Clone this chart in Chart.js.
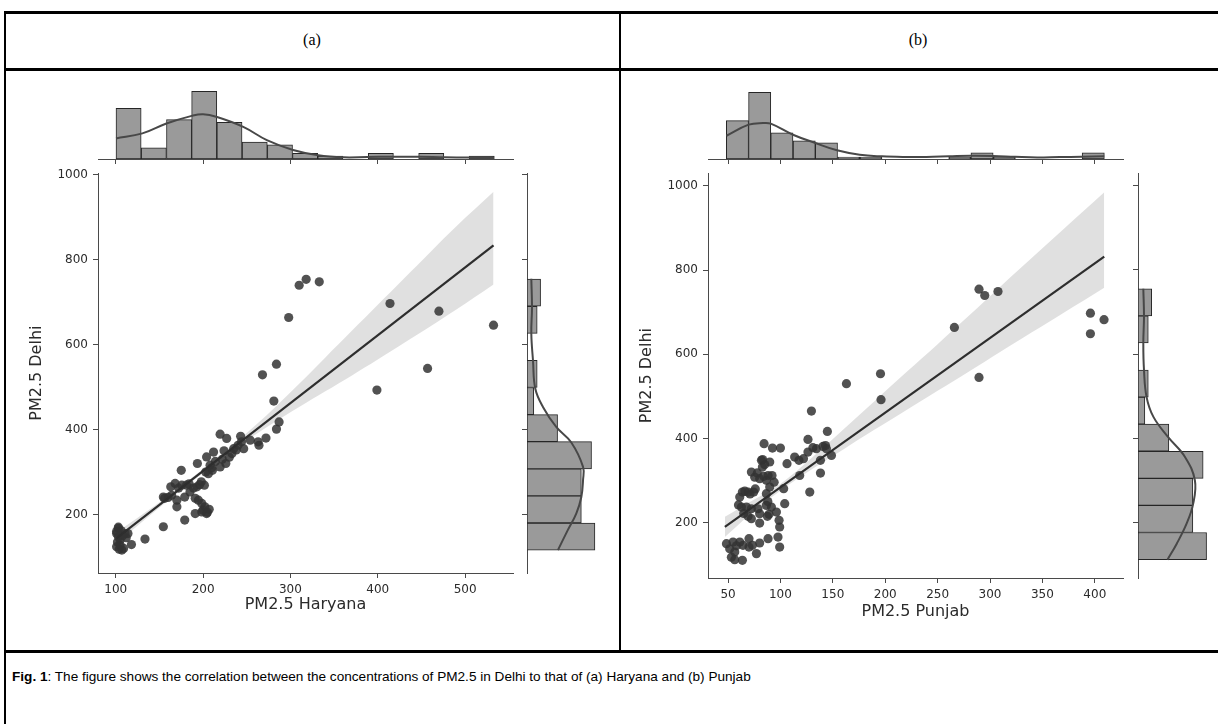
<!DOCTYPE html>
<html>
<head>
<meta charset="utf-8">
<script src="https://cdn.jsdelivr.net/npm/chart.js@4.4.1/dist/chart.umd.min.js"></script>
<style>
    body { margin: 0; width: 1218px; height: 724px; background: #fff; position: relative; overflow: hidden; }
    .rule { position: absolute; background: #000; }
    .head { position: absolute; top: 31px; font-family: "Liberation Serif", "Times New Roman", serif; font-size: 16px; transform: translateX(-50%); }
    canvas { position: absolute; }
    #caption { position: absolute; left: 12px; top: 669px; font-family: "Liberation Sans", Arial, sans-serif; font-size: 13.6px; color: #000; white-space: nowrap; }
</style>
</head>
<body>
<div class="rule" style="left:4px;top:11px;width:1214px;height:3px"></div>
<div class="rule" style="left:4px;top:68px;width:1214px;height:3px"></div>
<div class="rule" style="left:4px;top:650px;width:1214px;height:3px"></div>
<div class="rule" style="left:4px;top:11px;width:2px;height:713px"></div>
<div class="rule" style="left:619px;top:11px;width:2px;height:642px"></div>
<div class="head" style="left:312px">(a)</div>
<div class="head" style="left:918px">(b)</div>

<canvas id="haryanaTopGraph"></canvas>
<canvas id="haryanaScatterGraph"></canvas>
<canvas id="haryanaSideGraph"></canvas>
<canvas id="punjabTopGraph"></canvas>
<canvas id="punjabScatterGraph"></canvas>
<canvas id="punjabSideGraph"></canvas>

<div id="caption"><b>Fig. 1</b>: The figure shows the correlation between the concentrations of PM2.5 in Delhi to that of (a) Haryana and (b) Punjab</div>

<script>
// ---------- panel (a): Haryana vs Delhi ----------
const haryanaPm = [310, 318, 333, 298, 414, 470, 532.5, 284, 268, 457, 399, 281,
    287, 284,
    272, 264, 263, 254, 246.5,
    243, 244, 219.5, 227, 235, 240, 233, 224, 226, 219.5, 230, 238, 222,
    212, 204, 208, 210.7, 206, 193.5, 198, 201.5, 193, 191, 194.6, 198.5, 202, 200, 204, 198.5, 191, 205, 207, 196, 189, 214, 203, 210,
    175, 181, 175.6, 168, 163, 185, 179, 170, 164, 170, 179, 184, 172, 160,
    154.5, 154.5, 133.5, 156,
    118, 103, 110.6, 101, 105, 101, 107, 114, 103, 102, 104, 106, 108, 112, 101, 105, 109, 103];
const delhiPmA = [740, 754, 748, 664, 697, 679, 646, 554, 529, 544, 493, 467,
    418, 401,
    380, 363, 371, 375, 355,
    384, 371, 389, 379, 355, 363, 343.5, 350, 320, 312, 335, 352, 330,
    347, 335.5, 316, 304, 296, 320, 277, 269, 265, 238, 233.6, 226, 218, 210, 202, 206, 202, 205, 212, 270, 262, 325, 300, 310,
    304, 269, 269, 273, 265, 253, 241, 233.6, 245, 218, 186.6, 272, 262, 240,
    241, 171, 142, 238,
    129, 167, 155, 155, 140, 124, 116, 155, 148, 135, 118, 162, 150, 145, 160, 128, 120, 170];

// regression line and confidence band
const haryanaFitX = [101, 532.5];
const haryanaFitY = [144, 834];
const haryanaBandX = [101, 130, 160, 190, 220, 250, 280, 310, 340, 370, 400, 430, 460, 490, 532.5];
const haryanaBandHigh = [158, 199, 244, 291, 340, 392, 448, 508, 570, 632, 694, 756, 818, 879, 960];
const haryanaBandLow = [132, 182, 233, 282, 329, 374, 415, 453, 490, 527, 565, 604, 643, 683, 742];

// top marginal histogram (a)
const haryanaBinCenters = [114.7, 143.6, 172.5, 201.3, 230.2, 259.1, 288, 316.8, 345.7, 374.6, 403.5, 432.3, 461.2, 490.1, 519];
const haryanaBinCounts = [18, 4, 14, 24, 13, 6, 5, 2, 1, 0, 2, 0, 2, 0, 1];
const haryanaKdeX = [100.3, 130.5, 158, 187, 200, 216, 246, 273, 303, 332, 361, 388, 418, 447, 476, 504, 533];
const haryanaKdeCount = [7.3, 9.1, 12.6, 15.3, 15.9, 14.9, 11.4, 6.7, 3.2, 1.3, 0.6, 0.7, 0.8, 0.8, 0.6, 0.5, 0.35];

// right marginal histogram (a)
const delhiBinCentersA = [147.9, 211.7, 275.5, 339.3, 403.1, 466.9, 530.7, 594.5, 658.3, 722.1];
const delhiBinCountsA = [20, 16, 16, 19, 9, 2, 3, 0, 3, 4];
const delhiKdeYA = [116, 163, 202, 241, 281, 312, 370, 406, 453, 496, 563, 626, 688, 755];
const delhiKdeCountA = [9.1, 12, 14.5, 16, 16.5, 16.5, 13, 8.6, 4.7, 2.45, 1.76, 1.27, 1.47, 1.27];

// ---------- panel (b): Punjab vs Delhi ----------
const punjabPm = [289.5, 295, 307.6, 266, 395.8, 408.8, 395.8, 289.5, 195.5, 196, 163, 129.6,
    144.8, 134.3, 140.6, 143.9, 148.7, 138.2, 138.2, 143,
    126.3, 113.6, 117.7, 126.3, 118.4, 128, 122, 131,
    92.4, 100, 106.3, 103.1, 104.1, 91.4, 96.2, 98.7, 99.3, 97.7, 99.3, 94, 92,
    84.4, 81.9, 89.8, 82.8, 88.2, 72.3, 75.5, 80.2, 86.6, 89.8, 86.6, 74.5, 72.3, 78.6, 86.6, 89.1, 80.2, 72.3, 80.2, 87.6, 88.2, 70, 80.2, 73.3, 77.1, 70, 84, 78, 85, 83, 76, 88, 71,
    63.7, 69.1, 61.2, 62.8, 67.6, 69.1, 48.5, 54.8, 61.2, 64.3, 51.6, 56.4, 53.2, 56.4, 63.7, 66, 60, 65, 58];
const delhiPmB = [754.5, 739.5, 749, 663.6, 697.5, 682, 648.6, 545, 553.7, 492, 530, 465,
    416.7, 375.6, 381, 375.6, 359.7, 348, 317.7, 383,
    397.7, 355.7, 348, 367.6, 312, 272.6, 352, 378,
    377, 377, 340, 280.7, 245, 237, 225, 205.5, 189.6, 165.8, 142, 296, 312,
    387.5, 348, 344, 332, 312, 320, 308, 304.4, 300.4, 284.5, 268.8, 272.6, 233, 233, 241, 219.7, 221.4, 209.5, 199, 215, 162, 162, 151.6, 146, 126.4, 142, 310, 318, 338, 350, 280, 250, 268,
    272.6, 272.6, 260.8, 237, 237, 215, 150, 154, 154, 146, 138, 130, 118, 112, 110.5, 275, 242, 222, 145];

const punjabFitX = [47, 409];
const punjabFitY = [190, 832];
const punjabBandX = [47, 70, 100, 130, 160, 190, 220, 250, 280, 310, 340, 370, 409];
const punjabBandHigh = [214, 248, 292, 354, 421, 489, 557, 624, 692, 761, 829, 897, 985];
const punjabBandLow = [166, 217, 276, 327, 374, 421, 467, 513, 559, 606, 652, 698, 758];

const punjabBinCenters = [59, 80.2, 101.4, 122.7, 143.9, 165.1, 186.3, 207.5, 228.8, 250, 271.2, 292.4, 313.6, 334.9, 356.1, 377.3, 398.5];
const punjabBinCounts = [19, 33, 13, 9, 8, 1, 1, 0, 0, 0, 1, 3, 1, 0, 0, 0, 3];
const punjabKdeX = [48.5, 69.7, 83.4, 90.8, 112, 133.4, 154, 175.7, 197, 218.6, 239.3, 260.6, 281.6, 303, 324, 345, 366.5, 387.2, 409];
const punjabKdeCount = [11.5, 17, 17.8, 17.5, 12, 7.9, 4.3, 2.1, 1.3, 1.0, 1.0, 1.3, 1.6, 1.5, 1.1, 0.8, 1.0, 1.1, 1.3];

const delhiBinCentersB = [144.4, 208.7, 273, 337.3, 401.6, 465.9, 530.2, 594.5, 658.8, 723.1];
const delhiBinCountsB = [20, 16, 16, 19, 9, 2, 3, 0, 3, 4];
const delhiKdeYB = [112, 150, 198, 245, 300, 356, 403, 451, 498, 562, 626, 690, 755];
const delhiKdeCountB = [8.6, 11.3, 14.2, 16.1, 16.6, 13.7, 8.8, 4.5, 2.5, 1.75, 1.55, 1.75, 1.55];

// tick labels
const haryanaTicks = [100, 200, 300, 400, 500];
const punjabTicks = [50, 100, 150, 200, 250, 300, 350, 400];
const delhiTicks = [200, 400, 600, 800, 1000];

const spineColor = '#4a4a4a';
const labelColor = '#2b2b2b';
const barFill = '#9a9a9a';
const barEdge = '#262626';
const kdeColor = '#484848';

Chart.defaults.font.family = 'DejaVu Sans';
Chart.defaults.animation = false;

// put a canvas where its chart area lands on the given box
function place_canvas(id, box, pad) {
    const el = document.getElementById(id);
    const w = pad.left + (box.right - box.left) + pad.right;
    const h = pad.top + (box.bottom - box.top) + pad.bottom;
    el.width = w;
    el.height = h;
    el.style.left = (box.left - pad.left) + 'px';
    el.style.top = (box.top - pad.top) + 'px';
    el.style.width = w + 'px';
    el.style.height = h + 'px';
    return el;
}

// seaborn style spine with outward tick marks
function _spine_scale(min, max, tickValues, titleText, showLabels, fitSize) {
    return {
        type: 'linear',
        min: min,
        max: max,
        offset: false,
        afterBuildTicks: scale => { scale.ticks = tickValues.map(v => ({ value: v })); },
        afterFit: scale => {
            if (scale.isHorizontal()) { scale.height = fitSize } else { scale.width = fitSize }
        },
        grid: { drawOnChartArea: false, drawTicks: true, tickLength: 5, color: spineColor, lineWidth: 1, offset: false },
        border: { display: true, color: spineColor, width: 1 },
        ticks: {
            display: showLabels, autoSkip: false, maxRotation: 0, padding: 5, color: labelColor, font: { size: 12 },
            callback: value => String(value)
        },
        title: { display: !!titleText, text: titleText || '', color: labelColor, font: { size: 16 }, padding: 0 }
    };
}

function _hidden_scale(min, max) {
    return { type: 'linear', display: false, min: min, max: max };
}

function _pairs(xs, ys) {
    return xs.map((x, i) => ({ x: x, y: ys[i] }));
}

// build config for the joint scatter with regression fit
function _build_scatter_config(xs, ys, fitX, fitY, bandX, bandHigh, bandLow, xRange, yRange, xTicks, xTitle, pad) {
    return {
        type: 'scatter',
        data: {
            datasets: [
                { type: 'line', data: _pairs(bandX, bandHigh), borderWidth: 0, pointRadius: 0, tension: 0.35, fill: false, order: 3 },
                { type: 'line', data: _pairs(bandX, bandLow), borderWidth: 0, pointRadius: 0, tension: 0.35, fill: '-1', backgroundColor: 'rgba(0,0,0,0.12)', order: 3 },
                { data: _pairs(xs, ys), pointRadius: 4.6, pointBackgroundColor: 'rgba(52,52,52,0.85)', pointBorderWidth: 0, order: 2 },
                { type: 'line', data: _pairs(fitX, fitY), borderColor: '#2e2e2e', borderWidth: 2.2, pointRadius: 0, fill: false, order: 1 }
            ]
        },
        options: {
            responsive: false,
            maintainAspectRatio: false,
            devicePixelRatio: 1,
            layout: { padding: { top: pad.top, right: pad.right, left: 0, bottom: 0 } },
            plugins: { legend: { display: false }, tooltip: { enabled: false } },
            scales: {
                x: _spine_scale(xRange[0], xRange[1], xTicks, xTitle, true, pad.bottom),
                y: _spine_scale(yRange[0], yRange[1], delhiTicks, 'PM2.5 Delhi', true, pad.left)
            }
        }
    };
}

// build config for the top marginal histogram
function _build_top_config(centers, counts, kdeX, kdeCount, xRange, yMax, xTicks, pad) {
    return {
        type: 'bar',
        data: {
            datasets: [
                { type: 'line', data: _pairs(kdeX, kdeCount), borderColor: kdeColor, borderWidth: 2, pointRadius: 0, tension: 0.4, fill: false, order: 0 },
                { data: _pairs(centers, counts), backgroundColor: barFill, borderColor: barEdge, borderWidth: 1, borderSkipped: false, barPercentage: 1, categoryPercentage: 1, order: 1 }
            ]
        },
        options: {
            responsive: false,
            maintainAspectRatio: false,
            devicePixelRatio: 1,
            layout: { padding: { top: pad.top, right: pad.right, left: pad.left, bottom: 0 } },
            plugins: { legend: { display: false }, tooltip: { enabled: false } },
            scales: {
                x: _spine_scale(xRange[0], xRange[1], xTicks, '', false, pad.bottom),
                y: _hidden_scale(0, yMax)
            }
        }
    };
}

// build config for the right marginal histogram
function _build_side_config(centers, counts, kdeY, kdeCount, yRange, xMax, pad) {
    return {
        type: 'bar',
        data: {
            datasets: [
                { type: 'line', indexAxis: 'y', data: kdeY.map((y, i) => ({ x: kdeCount[i], y: y })), borderColor: kdeColor, borderWidth: 2, pointRadius: 0, tension: 0.4, fill: false, order: 0 },
                { data: centers.map((y, i) => ({ x: counts[i], y: y })), backgroundColor: barFill, borderColor: barEdge, borderWidth: 1, borderSkipped: false, barPercentage: 1, categoryPercentage: 1, order: 1 }
            ]
        },
        options: {
            indexAxis: 'y',
            responsive: false,
            maintainAspectRatio: false,
            devicePixelRatio: 1,
            layout: { padding: { top: pad.top, right: pad.right, left: 0, bottom: pad.bottom } },
            plugins: { legend: { display: false }, tooltip: { enabled: false } },
            scales: {
                x: _hidden_scale(0, xMax),
                y: _spine_scale(yRange[0], yRange[1], delhiTicks, '', false, pad.left)
            }
        }
    };
}

function create_haryana_graphs() {
    console.log("creating_haryana_graphs");
    const xRange = [79.7, 554.8];
    const yRange = [62, 1004];
    const mainPad = { left: 71, top: 12, right: 12, bottom: 41 };
    const topPad = { left: 2, top: 2, right: 2, bottom: 8 };
    const sidePad = { left: 8, top: 12, right: 4, bottom: 4 };
    new Chart(place_canvas('haryanaScatterGraph', { left: 98, top: 173, right: 513, bottom: 573 }, mainPad),
        _build_scatter_config(haryanaPm, delhiPmA, haryanaFitX, haryanaFitY, haryanaBandX, haryanaBandHigh, haryanaBandLow,
            xRange, yRange, haryanaTicks, 'PM2.5 Haryana', mainPad));
    new Chart(place_canvas('haryanaTopGraph', { left: 98, top: 88, right: 513, bottom: 159 }, topPad),
        _build_top_config(haryanaBinCenters, haryanaBinCounts, haryanaKdeX, haryanaKdeCount, xRange, 25.2, haryanaTicks, topPad));
    new Chart(place_canvas('haryanaSideGraph', { left: 527, top: 173, right: 599, bottom: 573 }, sidePad),
        _build_side_config(delhiBinCentersA, delhiBinCountsA, delhiKdeYA, delhiKdeCountA, yRange, 21.2, sidePad));
}

function create_punjab_graphs() {
    console.log("creating_punjab_graphs");
    const xRange = [30.9, 426.9];
    const yRange = [68.5, 1030];
    const mainPad = { left: 71, top: 12, right: 12, bottom: 43 };
    const topPad = { left: 2, top: 2, right: 2, bottom: 8 };
    const sidePad = { left: 8, top: 12, right: 4, bottom: 4 };
    new Chart(place_canvas('punjabScatterGraph', { left: 708, top: 173, right: 1123, bottom: 578 }, mainPad),
        _build_scatter_config(punjabPm, delhiPmB, punjabFitX, punjabFitY, punjabBandX, punjabBandHigh, punjabBandLow,
            xRange, yRange, punjabTicks, 'PM2.5 Punjab', mainPad));
    new Chart(place_canvas('punjabTopGraph', { left: 708, top: 89, right: 1123, bottom: 159 }, topPad),
        _build_top_config(punjabBinCenters, punjabBinCounts, punjabKdeX, punjabKdeCount, xRange, 34.65, punjabTicks, topPad));
    new Chart(place_canvas('punjabSideGraph', { left: 1138, top: 173, right: 1210, bottom: 578 }, sidePad),
        _build_side_config(delhiBinCentersB, delhiBinCountsB, delhiKdeYB, delhiKdeCountB, yRange, 21, sidePad));
}

create_haryana_graphs();
create_punjab_graphs();
</script>
</body>
</html>
